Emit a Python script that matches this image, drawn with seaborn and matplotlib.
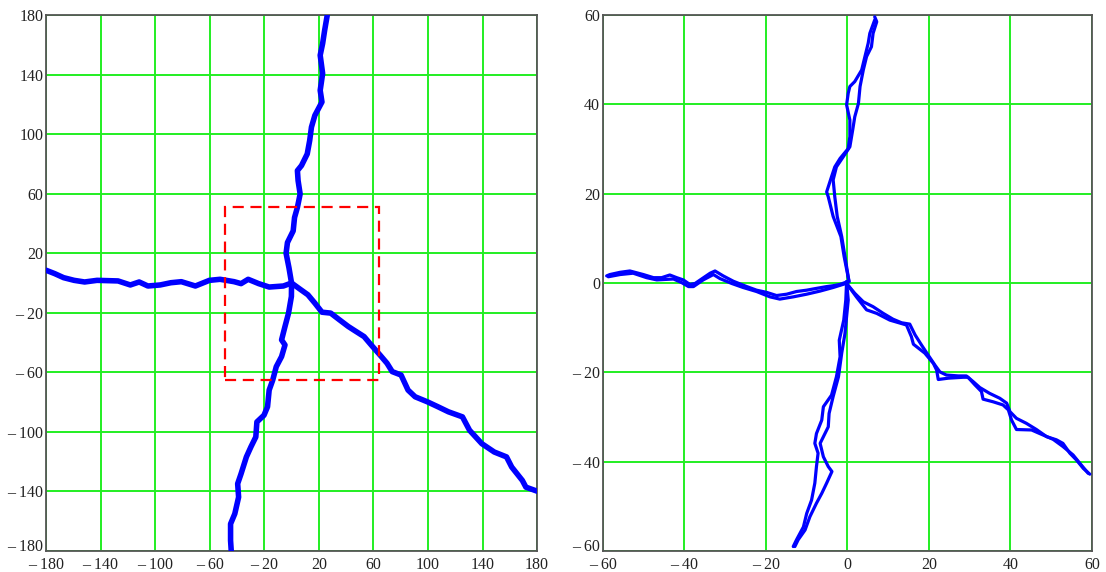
import pandas as pd
import seaborn as sns
import matplotlib.pyplot as plt
import matplotlib.transforms as mtransforms
from matplotlib.patches import Rectangle

# 左图：整体轨迹（四个方向，从原点出发）
north_x = [0, -1.9, -4, -3, 1.2, 2.2, 4.3, 6.3, 4.8, 4.3, 7.3, 11.5, 13.3, 14.6, 17.1, 22.3, 21, 22.8, 21, 22.8, 24.3, 26.2]
north_y = [0, 10.3, 20, 27.2, 35, 44, 50.8, 59.8, 68.8, 75.5, 78.9, 86.7, 95.7, 104.7, 112.6, 121.6, 129.4, 140.7, 153, 160.9, 169.9, 180]

south_x = [0, -0.1, -2.2, -4.8, -7.3, -4.8, -7.3, -11.2, -13.8, -16.4, -17.6, -20.2, -25.4, -26.2, -29.8, -33.1, -37, -39.5, -38.8, -41.6, -44.7, -44.7, -44.2]
south_y = [0, -9, -20.2, -29.2, -38.2, -41.6, -49.4, -56.2, -65.2, -71.9, -83.1, -88.8, -93.3, -103.4, -110.1, -116.8, -128.1, -134.8, -143.8, -155, -161.8, -173, -180]

west_x = [0, -6, -16.4, -24.1, -31.8, -37, -42.1, -52.4, -60.2, -70.5, -80.8, -88.5, -96.3, -105.3, -111.7, -118.2, -127.2, -142.6, -151.7, -159.4, -167.1, -173.6, -180]
west_y = [0, -2, -2.7, -0.4, 2.5, -0.4, 0.9, 2.5, 1.8, -2, 0.9, 0.2, -1.3, -2, 0.7, -1.3, 1.4, 1.8, 0.7, 1.8, 3.6, 6.3, 8.6]

se_x = [0, 6.8, 12, 17.1, 22.3, 28.7, 35.1, 41.6, 45.5, 53.2, 58.4, 64.8, 70, 73.8, 80.3, 85.4, 90.6, 99.6, 107.3, 115, 125.3, 130.5, 139.5, 148.6, 157.6, 161.4, 169.2, 171.8, 180]
se_y = [0, -4.5, -7.9, -13.5, -19.6, -20.2, -24.7, -29.2, -31.5, -36, -41.6, -48.3, -53.9, -59.5, -61.8, -71.9, -76.4, -79.8, -83.1, -86.5, -89.9, -98.9, -107.9, -113.5, -116.8, -123.6, -132.6, -137.1, -139.8]

# 放大区域（红色虚线框）
box_x = [-49, 64]
box_y = [-65, 51]

# 右图：中心区域多次轨迹
n_a_x = [0.4, -0.6, -1.4, -2.5, -3.1, -3.5, -2.7, -1, 0.6, 1.3, 1.8, 2.7, 3.1, 3.9, 4.7, 5.9, 6.3, 7.2, 6.7]
n_a_y = [0.3, 5.9, 10.4, 14.9, 19.3, 23.1, 26, 28.3, 30.5, 34.3, 37.2, 40.2, 44, 47.7, 50.7, 52.9, 55.9, 58.5, 59.6]
n_b_x = [0.4, -0.8, -1.6, -3.5, -4.7, -5.1, -3.9, -3.1, -1.8, 0.2, 0.6, 0.6, -0.2, 0.2, 0.6, 1.8, 3.5, 4.3, 5.1, 5.5, 6.7]
n_b_y = [0.3, 5.9, 10.4, 14.9, 19.3, 20.4, 23.8, 26, 27.9, 30.1, 32.8, 36.5, 39.9, 42.5, 44, 45.1, 47.7, 50.7, 53.7, 55.9, 58.9]

s_a_x = [-0.2, 0.2, -0.2, -0.6, -1.4, -2.2, -3.5, -4.5, -4.7, -6.7, -5.9, -4.7, -3.8, -5.1, -6.3, -7.6, -9.2, -10.4, -12.1, -12.9]
s_a_y = [0.3, -3.8, -7.5, -11.3, -15.7, -21, -25.4, -29.2, -32.2, -35.9, -38.9, -41.1, -42.2, -44.8, -47.1, -49.3, -52.3, -55.3, -57.5, -59]
s_b_x = [-0.2, -0.4, -0.9, -2, -1.8, -2.7, -3.9, -5.9, -6.3, -7.6, -8, -7.2, -7.6, -8, -8.8, -10, -10.8, -12.5, -13.3]
s_b_y = [0.3, -3.8, -8.3, -12.8, -16.5, -21, -25.1, -27.7, -30.7, -33.7, -35.9, -38.1, -41.1, -44.8, -48.6, -51.6, -54.6, -57.5, -59]

w_a_x = [0, -1.8, -3.5, -5.1, -7.6, -10, -12.5, -14.9, -17.4, -19.8, -22.3, -24.7, -28, -30.5, -32.5, -33.7, -35.8, -37.4, -38.7, -40.3, -41.9, -43.6, -45.6, -47.6, -50.1, -53.4, -55.8, -58.3, -59.1]
w_a_y = [0.3, -0.3, -0.6, -0.8, -1.2, -1.6, -1.9, -2.5, -2.8, -2.1, -1.6, -0.8, 0.4, 1.6, 2.7, 2.2, 0.9, -0.1, -0.3, 0.7, 1.2, 1.8, 1.2, 1.2, 1.9, 2.7, 2.4, 1.9, 1.6]
w_b_x = [0, -3.5, -6.7, -10, -13.3, -16.6, -19, -22.3, -25.6, -28.4, -31.3, -32.9, -35.4, -37.8, -39, -40.7, -42.7, -46.8, -49.3, -52.6, -55.8, -58.7]
w_b_y = [0, -1, -1.8, -2.5, -3.1, -3.6, -3.1, -1.9, -1, -0.1, 1, 1.9, 0.7, -0.8, -0.8, 0.1, 0.9, 0.7, 1.2, 2.2, 1.9, 1.4]

e_a_x = [-0.2, 1.8, 3.9, 6.3, 8.8, 11.2, 13.3, 15.3, 16.6, 18.2, 19.8, 21.5, 22.7, 24.3, 27.2, 29.2, 30.9, 32.5, 34.9, 37.4, 39.1, 39.9, 41.5, 43.9, 46.4, 48.9, 51.3, 52.9, 54.6, 56.2, 57.9, 59.5]
e_a_y = [-0.1, -2.3, -4.2, -5.3, -6.8, -8.1, -8.9, -9.2, -11.6, -13.9, -16.1, -18.4, -19.9, -20.6, -20.8, -20.8, -22.1, -23.4, -24.7, -25.8, -26.9, -28.8, -30.3, -31.4, -32.8, -34.4, -35.1, -35.9, -38.1, -39.6, -41.5, -42.8]
e_b_x = [-0.2, 2.2, 4.7, 7.2, 10.4, 14.5, 15.7, 16.2, 19, 21.1, 21.9, 22.3, 24.8, 28.4, 29.6, 31.3, 32.9, 33.3, 35.8, 38.2, 39.5, 40.3, 41.5, 45.2, 47.2, 50.5, 52.9, 55.4, 57.1, 59.1]
e_b_y = [-0.1, -3.1, -6, -6.8, -8.3, -9.4, -12, -13.7, -15.7, -18, -19.5, -21.6, -21.3, -21.1, -21.1, -22.8, -24.3, -26, -26.6, -27.3, -28.4, -30.7, -32.8, -32.9, -33.7, -35, -36.6, -38.5, -40.4, -42.6]

left_ticks = [-180, -140, -100, -60, -20, 20, 60, 100, 140, 180]
right_ticks = [-60, -40, -20, 0, 20, 40, 60]


def make_df(traces):
    rows = []
    for name, xs, ys in traces:
        for i, (a, b) in enumerate(zip(xs, ys)):
            rows.append({'x': a, 'y': b, 'trace': name, 'order': i})
    return pd.DataFrame(rows)


def fmt(v):
    return ('\u2013 %d' % -v) if v < 0 else '%d' % v


df_left = make_df([('north', north_x, north_y), ('south', south_x, south_y),
                   ('west', west_x, west_y), ('se', se_x, se_y)])
df_right = make_df([('na', n_a_x, n_a_y), ('nb', n_b_x, n_b_y),
                    ('sa', s_a_x, s_a_y), ('sb', s_b_x, s_b_y),
                    ('wa', w_a_x, w_a_y), ('wb', w_b_x, w_b_y),
                    ('ea', e_a_x, e_a_y), ('eb', e_b_x, e_b_y)])

sns.set_style('white')
plt.rcParams['font.family'] = ['Liberation Serif', 'DejaVu Serif']

fig = plt.figure(figsize=(11.06, 5.72), dpi=100)
ax1 = fig.add_axes([0.0416, 0.0367, 0.444, 0.937])
ax2 = fig.add_axes([0.5452, 0.0367, 0.442, 0.937])

sns.lineplot(data=df_left, x='x', y='y', units='trace', estimator=None, sort=False,
             color='#0000ff', lw=4.0, ax=ax1, zorder=3)
sns.lineplot(data=df_right, x='x', y='y', units='trace', estimator=None, sort=False,
             color='#0000ff', lw=2.3, ax=ax2, zorder=3)

ax1.add_patch(Rectangle((box_x[0], box_y[0]), box_x[1] - box_x[0], box_y[1] - box_y[0],
                        fill=False, edgecolor='#ff0000', lw=1.6, linestyle=(0, (5, 3)), zorder=4))

for ax, ticks, lim in [(ax1, left_ticks, 180), (ax2, right_ticks, 60)]:
    ax.set_xlim(-lim, lim)
    ax.set_ylim(-lim, lim)
    ax.set_xticks(ticks)
    ax.set_yticks(ticks)
    ax.set_xticklabels([fmt(t) for t in ticks])
    ax.set_yticklabels([fmt(t) for t in ticks])
    ax.grid(True, color='#22ee22', lw=1.4, zorder=1)
    ax.set_axisbelow(True)
    ax.tick_params(length=0, labelsize=11.5, labelcolor='#222222')
    ax.tick_params(axis='x', pad=4)
    ax.tick_params(axis='y', pad=2)
    ax.set_xlabel('')
    ax.set_ylabel('')
    for sp in ax.spines.values():
        sp.set_color('#555555')
        sp.set_linewidth(1.3)
    # 角上两个标签稍微错开
    lab = ax.get_yticklabels()[0]
    lab.set_transform(lab.get_transform() + mtransforms.ScaledTranslation(0, 4 / 72, fig.dpi_scale_trans))

fig.savefig('out.png', dpi=100)
